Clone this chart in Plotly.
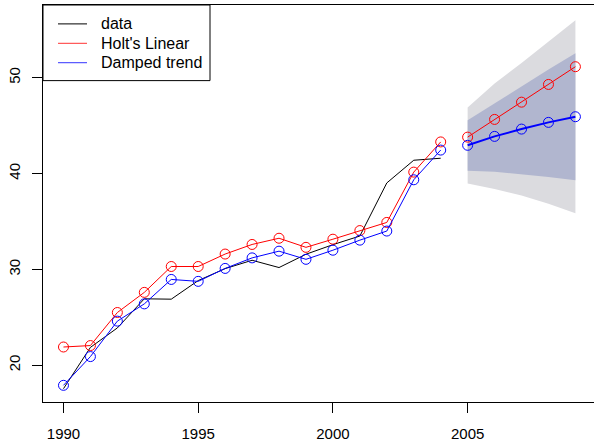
import plotly.graph_objects as go

years = list(range(1990, 2005))
data = [17.55, 21.86, 23.89, 26.93, 26.89, 28.83, 30.08, 30.95, 30.19, 31.58, 32.58, 33.48, 39.02, 41.39, 41.60]
holt_fit = [21.9, 22.05, 25.5, 27.6, 30.3, 30.3, 31.6, 32.6, 33.25, 32.3, 33.15, 34.05, 34.9, 40.15, 43.3]
damped_fit = [17.9, 20.9, 24.6, 26.4, 28.95, 28.75, 30.1, 31.2, 31.9, 31.05, 32.0, 33.05, 34.0, 39.35, 42.45]

fyears = list(range(2005, 2010))
holt_fc = [43.8, 45.65, 47.45, 49.3, 51.15]
damped_fc = [42.95, 43.88, 44.64, 45.34, 45.93]
hi95 = [46.9, 49.4, 51.55, 53.8, 56.0]
lo95 = [38.95, 38.4, 37.7, 36.85, 35.87]
hi80 = [45.57, 47.35, 49.1, 50.85, 52.55]
lo80 = [40.3, 40.2, 39.95, 39.65, 39.3]

xticks = [1990, 1995, 2000, 2005]
yticks = [20, 30, 40, 50]
legend_names = ["data", "Holt's Linear", "Damped trend"]
legend_colors = ["black", "#FF3333", "#3333FF"]

FONT = "Liberation Sans, Arial, Helvetica, sans-serif"
W, H = 594, 442
ML, MR, MT, MB = 43, 0, 5, 38
PW, PH = W - ML - MR, H - MT - MB


def px(x):
    return (x - ML) / PW


def py(y):
    return (H - MB - y) / PH


fig = go.Figure()

# fan
fig.add_trace(go.Scatter(x=fyears + fyears[::-1], y=hi95 + lo95[::-1], fill="toself",
                         fillcolor="#DBDBDF", line=dict(width=0), mode="lines",
                         showlegend=False, hoverinfo="skip"))
fig.add_trace(go.Scatter(x=fyears + fyears[::-1], y=hi80 + lo80[::-1], fill="toself",
                         fillcolor="#B1B6CF", line=dict(width=0), mode="lines",
                         showlegend=False, hoverinfo="skip"))

mk = dict(symbol="circle-open", size=10, line=dict(width=1))
fig.add_trace(go.Scatter(x=years, y=data, mode="lines", line=dict(color="black", width=1),
                         showlegend=False))
fig.add_trace(go.Scatter(x=years, y=holt_fit, mode="lines+markers", line=dict(color="red", width=1),
                         marker=dict(color="red", **mk), showlegend=False))
fig.add_trace(go.Scatter(x=years, y=damped_fit, mode="lines+markers", line=dict(color="blue", width=1),
                         marker=dict(color="blue", **mk), showlegend=False))
fig.add_trace(go.Scatter(x=fyears, y=holt_fc, mode="lines+markers", line=dict(color="red", width=1),
                         marker=dict(color="red", **mk), showlegend=False))
fig.add_trace(go.Scatter(x=fyears, y=damped_fc, mode="lines+markers", line=dict(color="blue", width=2),
                         marker=dict(color="blue", **mk), showlegend=False))

# manual legend box in R style
shapes = [dict(type="rect", xref="paper", yref="paper", x0=px(43), x1=px(210), y0=py(81), y1=py(5),
               line=dict(color="black", width=1), fillcolor="white", layer="above")]
annotations = []
for i, (name, col) in enumerate(zip(legend_names, legend_colors)):
    yc = 24 + i * 19.5
    shapes.append(dict(type="line", xref="paper", yref="paper", x0=px(58), x1=px(87),
                       y0=py(yc), y1=py(yc), line=dict(color=col, width=1), layer="above"))
    annotations.append(dict(xref="paper", yref="paper", x=px(99), y=py(yc), text=name,
                            showarrow=False, xanchor="left", yanchor="middle",
                            font=dict(family=FONT, size=16, color="black")))

fig.update_layout(
    width=W, height=H,
    margin=dict(l=ML, r=MR, t=MT, b=MB),
    paper_bgcolor="white", plot_bgcolor="white",
    font=dict(family=FONT, size=15, color="black"),
    showlegend=False,
    shapes=shapes, annotations=annotations,
    xaxis=dict(range=[1989.24, 2009.69], tickvals=xticks, showgrid=False, zeroline=False,
               showline=True, linecolor="black", linewidth=1, mirror=True,
               ticks="outside", ticklen=10, tickcolor="black", ticklabelstandoff=8),
    yaxis=dict(range=[16.16, 57.59], tickvals=yticks, showgrid=False, zeroline=False,
               showline=True, linecolor="black", linewidth=1,
               ticks="outside", ticklen=10, tickcolor="black", tickangle=-90,
               ticklabelstandoff=6),
)

fig.write_html("out.html")
